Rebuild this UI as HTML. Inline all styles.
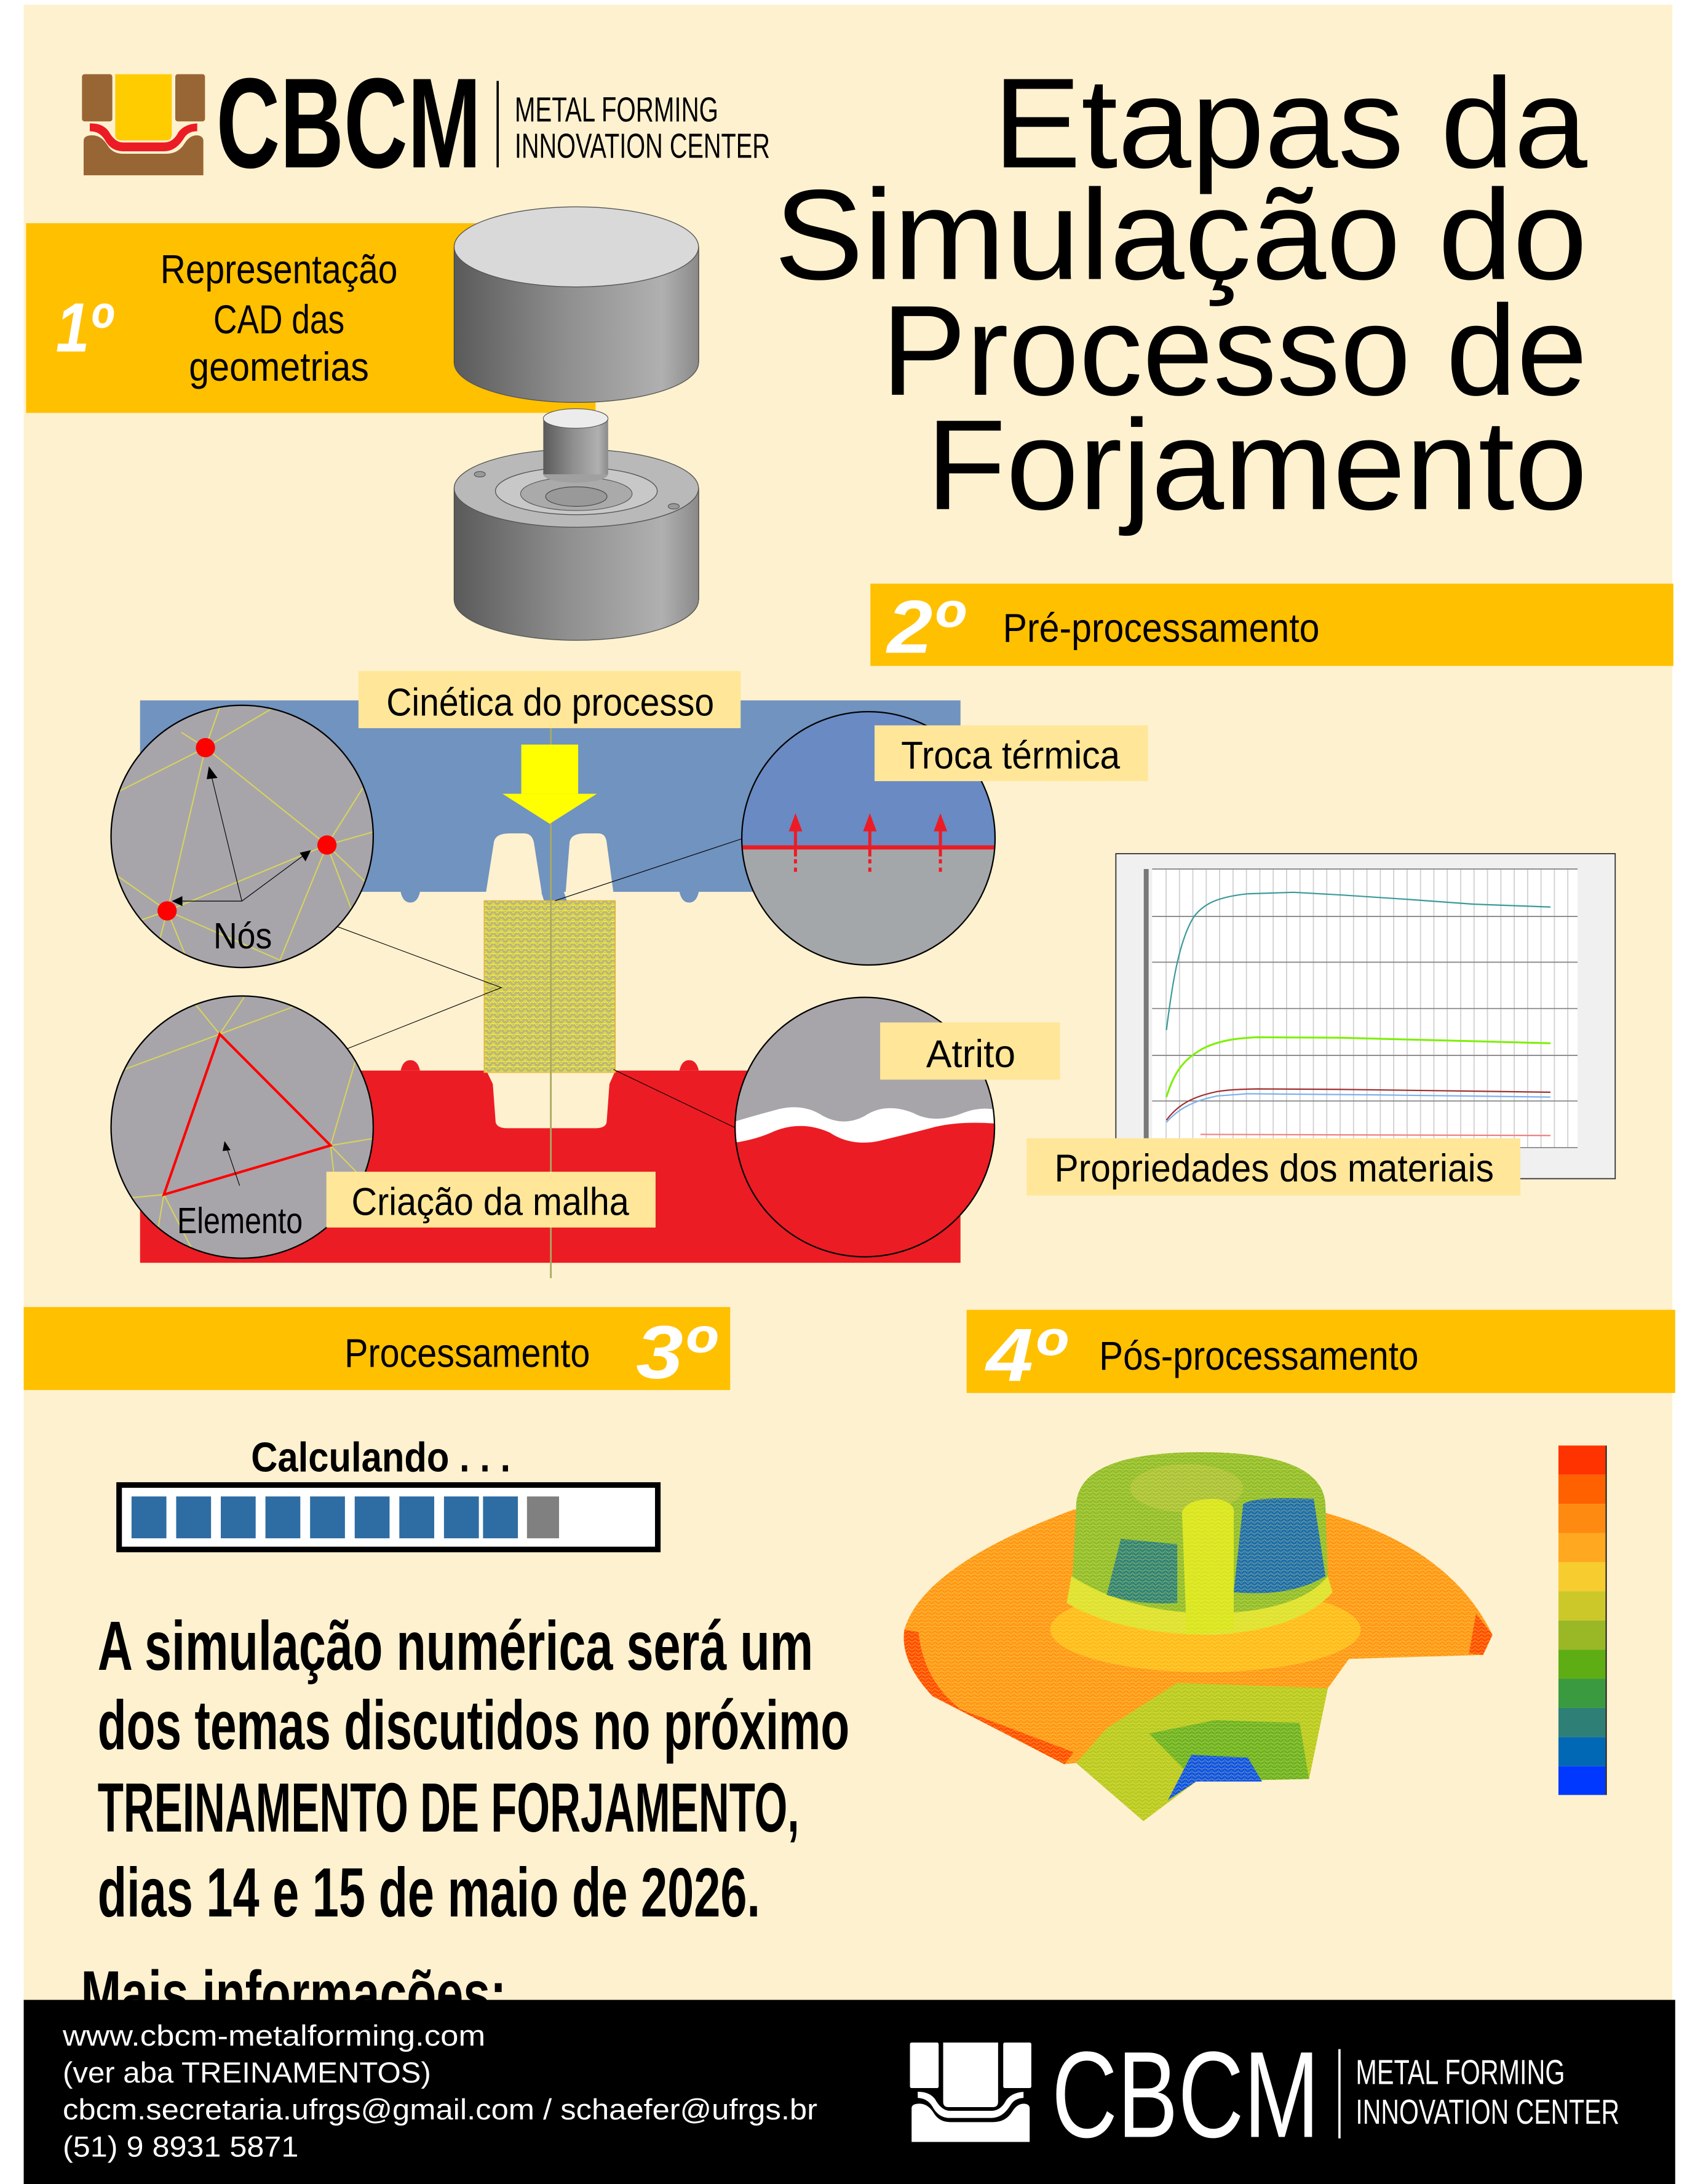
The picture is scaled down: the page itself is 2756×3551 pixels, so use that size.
<!DOCTYPE html>
<html><head><meta charset="utf-8"><style>
html,body{margin:0;padding:0;background:#fff;}
svg{display:block;}
.c{font-family:"Liberation Sans Narrow","Liberation Sans",sans-serif;font-weight:bold;}
.t{font-family:"Liberation Sans",sans-serif;}
</style></head><body>
<svg width="2756" height="3551" viewBox="0 0 1215.2 1565.7" preserveAspectRatio="none" xmlns="http://www.w3.org/2000/svg">
<defs>
<clipPath id="cN"><circle cx="173.6" cy="599.6" r="94"/></clipPath>
<clipPath id="cE"><circle cx="173.6" cy="808" r="94"/></clipPath>
<clipPath id="cT"><circle cx="622.6" cy="601" r="90.8"/></clipPath>
<clipPath id="cF"><circle cx="620" cy="808" r="93"/></clipPath>
<linearGradient id="cyl" x1="0" x2="1" y1="0" y2="0">
<stop offset="0" stop-color="#5a5a5a"/><stop offset="0.45" stop-color="#8e8e8e"/><stop offset="0.85" stop-color="#b0b0b0"/><stop offset="1" stop-color="#8a8a8a"/></linearGradient>
<pattern id="mesh" width="14" height="14" patternUnits="userSpaceOnUse">
<rect width="14" height="14" fill="#bdb77a"/><path d="M0,14 L7,0 L14,14 M0,7 L14,7" stroke="#f2ec30" stroke-width="1.4" fill="none"/><circle cx="7" cy="7" r="1.6" fill="#ffff40"/></pattern>
<pattern id="pm" width="14" height="14" patternUnits="userSpaceOnUse">
<path d="M0,14 L7,0 L14,14 M0,7 L14,7" stroke="#ffff60" stroke-width="0.9" fill="none" opacity="0.55"/></pattern>
<clipPath id="partclip"><path d="M380,1265 L100,1010 Q30,880 40,760 Q80,520 400,310 L405,300 Q405,95 670,95 Q935,95 935,300 L930,320 Q1200,450 1290,780 L1270,855 L985,870 L940,980 L900,1320 L660,1330 L548,1478 L405,1260 Z"/></clipPath>
</defs>

<rect x="0" y="0" width="1215.2" height="1565.7" fill="#fff"/>
<rect x="17" y="3.4" width="1182" height="1562" fill="#FEF1CF"/>

<!-- top logo -->
<g transform="matrix(0.14697 0 0 0.14697 44.09 44.09)">
<rect x="100" y="62" width="148" height="230" rx="12" fill="#986634"/>
<rect x="555" y="62" width="145" height="230" rx="12" fill="#986634"/>
<path d="M262,62 L538,62 L538,355 Q538,385 508,385 L292,385 Q262,385 262,355 Z" fill="#FFCC00"/>
<path d="M138,302 Q200,300 230,340 Q260,395 300,395 L500,395 Q545,395 570,345 Q600,305 662,302 L662,340 Q620,340 600,370 Q560,438 500,438 L300,438 Q240,438 210,380 Q185,340 138,340 Z" fill="#EC1C24"/>
<path d="M108,385 Q110,360 150,360 Q195,360 225,410 Q250,450 300,450 L510,450 Q570,450 600,400 Q625,360 660,360 Q690,362 692,385 L692,555 L108,555 Z" fill="#986634"/>
</g>
<text class="c" x="155" y="120" font-size="92" textLength="190" lengthAdjust="spacingAndGlyphs">CBCM</text>
<rect x="356" y="58" width="1.6" height="62" fill="#000"/>
<text class="c" x="369" y="87" font-size="25" textLength="146" lengthAdjust="spacingAndGlyphs" style="font-weight:normal">METAL FORMING</text>
<text class="c" x="369" y="113" font-size="25" textLength="183" lengthAdjust="spacingAndGlyphs" style="font-weight:normal">INNOVATION CENTER</text>

<!-- title -->
<g class="t" font-size="92" text-anchor="end" fill="#000">
<text x="1138" y="120" textLength="426" lengthAdjust="spacingAndGlyphs">Etapas da</text>
<text x="1138" y="200" textLength="583" lengthAdjust="spacingAndGlyphs">Simulação do</text>
<text x="1138" y="283" textLength="506" lengthAdjust="spacingAndGlyphs">Processo de</text>
<text x="1138" y="365" textLength="474" lengthAdjust="spacingAndGlyphs">Forjamento</text>
</g>

<!-- band 1 -->
<rect x="18.7" y="160" width="408.3" height="136" fill="#FFC000"/>
<text class="c" x="40" y="252" font-size="50" fill="#fff" font-style="italic" textLength="40" lengthAdjust="spacingAndGlyphs">1º</text>
<g class="c" font-size="29" text-anchor="middle" style="font-weight:normal">
<text x="200" y="203" textLength="170" lengthAdjust="spacingAndGlyphs">Representação</text>
<text x="200" y="239" textLength="94" lengthAdjust="spacingAndGlyphs">CAD das</text>
<text x="200" y="273" textLength="129" lengthAdjust="spacingAndGlyphs">geometrias</text>
</g>

<!-- cylinders -->
<ellipse cx="413.2" cy="260" rx="87.6" ry="28.5" fill="url(#cyl)" stroke="#555" stroke-width="0.6"/>
<rect x="325.6" y="177" width="175.3" height="83" fill="url(#cyl)"/>
<line x1="325.6" y1="177" x2="325.6" y2="260" stroke="#444" stroke-width="0.6"/>
<line x1="500.9" y1="177" x2="500.9" y2="260" stroke="#444" stroke-width="0.6"/>
<ellipse cx="413.2" cy="177" rx="87.6" ry="28.7" fill="#d9d9d9" stroke="#555" stroke-width="0.6"/>

<ellipse cx="413.2" cy="430" rx="87.6" ry="29" fill="url(#cyl)" stroke="#555" stroke-width="0.6"/>
<rect x="325.6" y="350" width="175.3" height="80" fill="url(#cyl)"/>
<line x1="325.6" y1="350" x2="325.6" y2="430" stroke="#444" stroke-width="0.6"/>
<line x1="500.9" y1="350" x2="500.9" y2="430" stroke="#444" stroke-width="0.6"/>
<ellipse cx="413.2" cy="350" rx="87.6" ry="28" fill="#b9b9b9" stroke="#555" stroke-width="0.6"/>
<ellipse cx="413.2" cy="352" rx="58" ry="17" fill="#c8c8c8" stroke="#555" stroke-width="0.6"/>
<ellipse cx="413.2" cy="354" rx="40" ry="12" fill="#aaa" stroke="#555" stroke-width="0.5"/>
<ellipse cx="413.2" cy="356" rx="22" ry="7" fill="#999" stroke="#444" stroke-width="0.5"/>
<ellipse cx="344" cy="340" rx="4" ry="2" fill="#999" stroke="#444" stroke-width="0.4"/>
<ellipse cx="483" cy="363" rx="4" ry="2" fill="#999" stroke="#444" stroke-width="0.4"/>
<ellipse cx="412.7" cy="340" rx="23.2" ry="6" fill="#a0a0a0"/>
<rect x="389.5" y="300" width="46.5" height="40" fill="url(#cyl)"/>
<ellipse cx="412.7" cy="300" rx="23.2" ry="7" fill="#ececec" stroke="#555" stroke-width="0.5"/>

<!-- band 2 -->
<rect x="624" y="418.4" width="575.7" height="59" fill="#FFC000"/>
<text class="c" x="636" y="468" font-size="54" fill="#fff" font-style="italic" textLength="54" lengthAdjust="spacingAndGlyphs">2º</text>
<text class="c" x="719" y="460" font-size="29" textLength="227" lengthAdjust="spacingAndGlyphs" style="font-weight:normal">Pré-processamento</text>

<!-- diagram -->
<g transform="matrix(0.4079 0 0 0.2756 88.18 485.0)">
<rect x="30" y="62" width="1442" height="498" fill="#7093C0"/>
<path d="M735,560 L740,583 L780,583 L775,560 Z" fill="#7093C0"/>
<path d="M488,560 Q492,588 505,588 Q518,588 522,560 Z" fill="#7093C0"/>
<path d="M978,560 Q982,588 995,588 Q1008,588 1012,560 Z" fill="#7093C0"/>
<path d="M638,562 L652,430 Q655,408 680,408 L705,408 Q718,408 722,430 L736,562 Z" fill="#FEF1CF"/>
<path d="M778,562 L785,430 Q788,408 812,408 L835,408 Q848,408 850,430 L862,562 Z" fill="#FEF1CF"/>
<rect x="30" y="1025" width="1442" height="500" fill="#EC1C24"/>
<path d="M488,1025 Q492,998 505,998 Q518,998 522,1025 Z" fill="#EC1C24"/>
<path d="M978,1025 Q982,998 995,998 Q1008,998 1012,1025 Z" fill="#EC1C24"/>
<path d="M638,1023 L650,1060 L655,1160 Q658,1175 675,1175 L830,1175 Q848,1175 850,1160 L855,1060 L866,1023 Z" fill="#FEF1CF"/>
<rect x="635" y="583" width="230" height="447" fill="url(#mesh)" stroke="#e2b63a" stroke-width="2"/>
<line x1="752" y1="130" x2="752" y2="1565" stroke="#a8aa60" stroke-width="3"/>
<rect x="700" y="177" width="100" height="128" fill="#FFFF00"/>
<path d="M667,305 L833,305 L750,383 Z" fill="#FFFF00"/>
</g>
<g stroke="#000" stroke-width="0.5" fill="none">
<path d="M241,664 L359.4,708 L248.5,752"/>
<line x1="531.9" y1="601.3" x2="398" y2="645.7"/>
<line x1="439.8" y1="766.7" x2="526.7" y2="808.3"/>
</g>

<!-- nodes circle -->
<g clip-path="url(#cN)">
<rect x="70" y="500" width="210" height="200" fill="#A7A5AA"/>
<g stroke="#D8D45A" stroke-width="0.9" fill="none">
<path d="M147.3,536 L80,570 M147.3,536 L120,653 M147.3,536 L234.4,605.8 M147.3,536 L160,500 M147.3,536 L200,505 M147.3,536 L130,525"/>
<path d="M234.4,605.8 L120,653 M234.4,605.8 L260,565 M234.4,605.8 L290,590 M234.4,605.8 L270,640 M234.4,605.8 L255,660 M234.4,605.8 L200,690"/>
<path d="M120,653 L80,625 M120,653 L100,660 M120,653 L110,690 M120,653 L135,690 M120,653 L200,688"/>
</g>
<circle cx="147.3" cy="536" r="6.9" fill="#F00"/>
<circle cx="234.4" cy="605.8" r="6.9" fill="#F00"/>
<circle cx="119.8" cy="653" r="6.9" fill="#F00"/>
<g stroke="#000" stroke-width="0.5" fill="#000">
<path d="M173.4,646 L152,558" fill="none"/><path d="M149.9,550 L155.5,557.5 L148.5,558.3 Z"/>
<path d="M173.4,646 L218,613" fill="none"/><path d="M222.5,609.8 L219,617 L215.3,611.5 Z"/>
<path d="M173.4,646 L130,646" fill="none"/><path d="M123.8,646 L130.5,642.8 L130.5,649.2 Z"/>
</g>
</g>
<circle cx="173.6" cy="599.6" r="94" fill="none" stroke="#000" stroke-width="1"/>
<text class="c" x="153" y="680" font-size="26" textLength="42" lengthAdjust="spacingAndGlyphs" style="font-weight:normal">Nós</text>

<!-- element circle -->
<g clip-path="url(#cE)">
<rect x="70" y="705" width="210" height="210" fill="#A7A5AA"/>
<g stroke="#D8D45A" stroke-width="0.9" fill="none">
<path d="M157.5,741.4 L80,770 M157.5,741.4 L140,720 M157.5,741.4 L175,715 M157.5,741.4 L215,720 M237,821.2 L275,815 M237,821.2 L255,760 M237,821.2 L265,850 M237,821.2 L245,890 M117.5,856.4 L80,860 M117.5,856.4 L110,900 M117.5,856.4 L140,900"/>
</g>
<path d="M157.5,741.4 L237,821.2 L117.5,856.4 Z" fill="none" stroke="#F00" stroke-width="1.8"/>
<path d="M171.8,850 L162.6,823" stroke="#000" stroke-width="0.5"/>
<path d="M161,818 L165.3,824.5 L159.6,825.2 Z" fill="#000"/>
</g>
<circle cx="173.6" cy="808" r="94" fill="none" stroke="#000" stroke-width="1"/>
<text class="c" x="127" y="884" font-size="26" textLength="90" lengthAdjust="spacingAndGlyphs" style="font-weight:normal">Elemento</text>

<!-- thermal circle -->
<g clip-path="url(#cT)">
<rect x="525" y="505" width="200" height="103" fill="#6A8AC4"/>
<rect x="525" y="608" width="200" height="100" fill="#A4A7AA"/>
<rect x="525" y="606" width="200" height="3" fill="#EC1C24"/>
<g fill="#EC1C24">
<rect x="569.2" y="594" width="2.2" height="20"/><path d="M565.5,596 L570.3,583 L575.2,596 Z"/><rect x="569.2" y="616" width="2.2" height="3"/><rect x="569.2" y="622" width="2.2" height="3"/>
<rect x="622.5" y="594" width="2.2" height="20"/><path d="M618.8,596 L623.6,583 L628.5,596 Z"/><rect x="622.5" y="616" width="2.2" height="3"/><rect x="622.5" y="622" width="2.2" height="3"/>
<rect x="673.1" y="594" width="2.2" height="20"/><path d="M669.4,596 L674.2,583 L679.1,596 Z"/><rect x="673.1" y="616" width="2.2" height="3"/><rect x="673.1" y="622" width="2.2" height="3"/>
</g>
</g>
<circle cx="622.6" cy="601" r="90.8" fill="none" stroke="#000" stroke-width="1"/>

<!-- friction circle -->
<g clip-path="url(#cF)">
<rect x="520" y="710" width="200" height="200" fill="#A7A5AA"/>
<path d="M520,806 Q540,800 555,796 Q575,790 590,800 Q605,808 620,800 Q635,790 655,798 Q670,806 690,798 Q705,792 720,797 L720,910 L520,910 Z" fill="#fff"/>
<path d="M520,820 Q540,818 555,811 Q575,803 595,812 Q610,822 630,818 Q655,812 670,808 Q690,803 720,806 L720,910 L520,910 Z" fill="#EC1C24"/>
</g>
<circle cx="620" cy="808" r="93" fill="none" stroke="#000" stroke-width="1"/>

<!-- labels -->
<g fill="#FFE699">
<rect x="257" y="481" width="274" height="41"/>
<rect x="627" y="520" width="196" height="40"/>
<rect x="631" y="733" width="129" height="41"/>
<rect x="234" y="840" width="236" height="40"/>
</g>
<g class="c" font-size="28" style="font-weight:normal">
<text x="277" y="513" textLength="235" lengthAdjust="spacingAndGlyphs">Cinética do processo</text>
<text x="646" y="551" textLength="157" lengthAdjust="spacingAndGlyphs">Troca térmica</text>
<text x="664" y="765" textLength="64" lengthAdjust="spacingAndGlyphs">Atrito</text>
<text x="252" y="871" textLength="199" lengthAdjust="spacingAndGlyphs">Criação da malha</text>
</g>

<!-- chart -->
<rect x="800" y="612" width="358" height="233" fill="#F0F0F0" stroke="#333" stroke-width="0.8"/>
<rect x="826" y="622.7" width="305" height="200" fill="#fff"/>
<g stroke="#d0d0d0" stroke-width="0.8">
<path d="M836,623V823M845.6,623V823M855.2,623V823M864.8,623V823M874.4,623V823M884,623V823M893.6,623V823M903.2,623V823M912.8,623V823M922.4,623V823M932,623V823M941.6,623V823M951.2,623V823M960.8,623V823M970.4,623V823M980,623V823M989.6,623V823M999.2,623V823M1008.8,623V823M1018.4,623V823M1028,623V823M1037.6,623V823M1047.2,623V823M1056.8,623V823M1066.4,623V823M1076,623V823M1085.6,623V823M1095.2,623V823M1104.8,623V823M1114.4,623V823M1124,623V823"/>
</g>
<g stroke="#888" stroke-width="0.8"><path d="M826,623H1131M826,657H1131M826,689.8H1131M826,723H1131M826,756.6H1131M826,789.3H1131M826,822.7H1131"/></g>
<rect x="820" y="623" width="3.5" height="205" fill="#777"/>
<g transform="matrix(0.239 0 0 0.1575 793.7 608.5)" fill="none" stroke-width="2.2" stroke-linejoin="round">
<path vector-effect="non-scaling-stroke" stroke="#3A9A9A" d="M178,825 C195,620 215,420 260,310 C290,250 330,220 420,205 L560,198 L700,210 L900,230 L1100,252 L1330,265"/>
<path vector-effect="non-scaling-stroke" stroke="#7CF000" stroke-width="3" d="M178,1130 C200,1020 230,950 300,900 C340,875 380,862 450,858 L700,860 L1000,872 L1330,885"/>
<path vector-effect="non-scaling-stroke" stroke="#A03030" d="M178,1235 C210,1170 250,1130 330,1105 C360,1098 380,1095 450,1093 L700,1095 L1330,1108"/>
<path vector-effect="non-scaling-stroke" stroke="#7DB0EE" d="M178,1245 C210,1190 250,1150 330,1125 L420,1115 L800,1120 L1330,1130"/>
<path vector-effect="non-scaling-stroke" stroke="#F08080" d="M280,1300 L1330,1305"/>
</g>
<rect x="736" y="816" width="354" height="41" fill="#FFE699"/>
<text class="c" x="756" y="847" font-size="28" textLength="315" lengthAdjust="spacingAndGlyphs" style="font-weight:normal">Propriedades dos materiais</text>

<!-- band 3 & 4 -->
<rect x="17" y="937" width="506.5" height="59.5" fill="#FFC000"/>
<text class="c" x="247" y="980" font-size="29" textLength="176" lengthAdjust="spacingAndGlyphs" style="font-weight:normal">Processamento</text>
<text class="c" x="456" y="988" font-size="54" fill="#fff" font-style="italic" textLength="56" lengthAdjust="spacingAndGlyphs">3º</text>
<rect x="693" y="939" width="508" height="59.6" fill="#FFC000"/>
<text class="c" x="707" y="990" font-size="54" fill="#fff" font-style="italic" textLength="56" lengthAdjust="spacingAndGlyphs">4º</text>
<text class="c" x="788" y="982" font-size="29" textLength="229" lengthAdjust="spacingAndGlyphs" style="font-weight:normal">Pós-processamento</text>

<!-- progress -->
<text class="c" x="180" y="1055" font-size="30" textLength="186" lengthAdjust="spacingAndGlyphs">Calculando . . .</text>
<rect x="85.4" y="1064.6" width="386.2" height="46.2" fill="#fff" stroke="#000" stroke-width="4"/>
<g fill="#2E6DA4">
<rect x="94.3" y="1072.8" width="25" height="30"/><rect x="126.3" y="1072.8" width="25" height="30"/><rect x="158.3" y="1072.8" width="25" height="30"/><rect x="190.3" y="1072.8" width="25" height="30"/><rect x="222.3" y="1072.8" width="25" height="30"/><rect x="254.3" y="1072.8" width="25" height="30"/><rect x="286.3" y="1072.8" width="25" height="30"/><rect x="318.3" y="1072.8" width="25" height="30"/><rect x="346.3" y="1072.8" width="25" height="30"/>
</g>
<rect x="377.8" y="1072.8" width="23" height="30" fill="#808080"/>

<!-- big text -->
<g class="c" font-size="50">
<text x="70" y="1197" textLength="513" lengthAdjust="spacingAndGlyphs">A simulação numérica será um</text>
<text x="70" y="1254" textLength="539" lengthAdjust="spacingAndGlyphs">dos temas discutidos no próximo</text>
<text x="70" y="1313" textLength="503" lengthAdjust="spacingAndGlyphs">TREINAMENTO DE FORJAMENTO,</text>
<text x="70" y="1374" textLength="475" lengthAdjust="spacingAndGlyphs">dias 14 e 15 de maio de 2026.</text>
<text x="58" y="1445" font-size="46" textLength="305" lengthAdjust="spacingAndGlyphs">Mais informações:</text>
</g>

<!-- result image -->
<g transform="matrix(0.3373 0 0 0.1912 634.9 1022.9)">
<path d="M380,1265 L100,1010 Q30,880 40,760 Q80,520 400,310 L930,320 Q1200,450 1290,780 L1270,855 L985,870 L940,980 L900,1320 L660,1330 L548,1478 L405,1260 Z" fill="#FF9518"/>
<path d="M380,1265 L100,1010 Q30,880 40,760 L70,770 Q80,950 160,1060 L400,1220 Z" fill="#FF4A00"/>
<path d="M1290,780 L1270,855 L1240,850 L1255,700 Z" fill="#FF4A00"/>
<ellipse cx="680" cy="760" rx="330" ry="160" fill="#FFC21E" opacity="0.8"/>
<path d="M405,1260 L548,1478 L660,1330 L900,1320 L940,980 L620,960 L470,1130 Z" fill="#B8C822"/>
<path d="M560,1150 L700,1100 L880,1110 L900,1320 L660,1330 Z" fill="#6AB024"/>
<path d="M600,1400 L660,1330 L800,1330 L770,1240 L650,1230 Z" fill="#0A4FEA"/>
<path d="M405,300 Q405,95 670,95 Q935,95 935,300 L940,560 Q880,690 700,720 Q520,730 395,640 Z" fill="#8FBB2E"/>
<path d="M395,560 Q520,700 700,700 Q880,690 940,560 L950,620 Q880,760 700,780 Q500,780 385,660 Z" fill="#DDE030"/>
<path d="M760,290 Q780,260 910,270 L935,560 Q860,640 740,620 Z" fill="#1A6AB0"/>
<path d="M500,420 L620,440 L620,660 Q540,670 470,630 Z" fill="#2E8077"/>
<ellipse cx="640" cy="230" rx="120" ry="90" fill="#A8C03A"/>
<path d="M630,320 Q640,270 700,270 Q745,280 740,330 L740,760 L640,780 Z" fill="#D8E41E"/>
<rect x="0" y="0" width="1400" height="1500" fill="url(#pm)" clip-path="url(#partclip)"/>
</g>
<!-- colorbar -->
<g>
<rect x="1117.3" y="1036.3" width="33.7" height="20.9" fill="#FF3300"/>
<rect x="1117.3" y="1057.2" width="33.7" height="20.9" fill="#FF6100"/>
<rect x="1117.3" y="1078.1" width="33.7" height="20.9" fill="#FF8A12"/>
<rect x="1117.3" y="1099" width="33.7" height="20.9" fill="#FFA820"/>
<rect x="1117.3" y="1119.9" width="33.7" height="20.9" fill="#F7CC2E"/>
<rect x="1117.3" y="1140.8" width="33.7" height="20.9" fill="#CCC82A"/>
<rect x="1117.3" y="1161.7" width="33.7" height="20.9" fill="#9AB826"/>
<rect x="1117.3" y="1182.6" width="33.7" height="20.9" fill="#5FAD14"/>
<rect x="1117.3" y="1203.5" width="33.7" height="20.9" fill="#3A9A40"/>
<rect x="1117.3" y="1224.4" width="33.7" height="20.9" fill="#2E8077"/>
<rect x="1117.3" y="1245.3" width="33.7" height="20.9" fill="#0068B5"/>
<rect x="1117.3" y="1266.2" width="33.7" height="20.6" fill="#0038FF"/>
<line x1="1151.5" y1="1036.3" x2="1151.5" y2="1286.8" stroke="#000" stroke-width="0.8"/>
</g>

<!-- footer -->
<rect x="17" y="1433.7" width="1184" height="132" fill="#000"/>
<g class="t" font-size="21" fill="#fff">
<text x="45" y="1466.5" textLength="303" lengthAdjust="spacingAndGlyphs">www.cbcm-metalforming.com</text>
<text x="45" y="1493" textLength="264" lengthAdjust="spacingAndGlyphs">(ver aba TREINAMENTOS)</text>
<text x="45" y="1519.5" textLength="541" lengthAdjust="spacingAndGlyphs">cbcm.secretaria.ufrgs@gmail.com / schaefer@ufrgs.br</text>
<text x="45" y="1546" textLength="169" lengthAdjust="spacingAndGlyphs">(51) 9 8931 5871</text>
</g>
<g transform="matrix(0.14697 0 0 0.14697 637.09 1454.59)" fill="#fff" stroke="#000" stroke-width="8">
<rect x="100" y="62" width="148" height="230" rx="12"/>
<rect x="555" y="62" width="145" height="230" rx="12"/>
<path d="M262,62 L538,62 L538,355 Q538,385 508,385 L292,385 Q262,385 262,355 Z"/>
<path d="M138,302 Q200,300 230,340 Q260,395 300,395 L500,395 Q545,395 570,345 Q600,305 662,302 L662,340 Q620,340 600,370 Q560,438 500,438 L300,438 Q240,438 210,380 Q185,340 138,340 Z"/>
<path d="M108,385 Q110,360 150,360 Q195,360 225,410 Q250,450 300,450 L510,450 Q570,450 600,400 Q625,360 660,360 Q690,362 692,385 L692,555 L108,555 Z"/>
</g>
<text class="c" x="754" y="1532" font-size="88" fill="#fff" textLength="192" lengthAdjust="spacingAndGlyphs" style="font-weight:normal">CBCM</text>
<rect x="959.5" y="1469" width="1.6" height="64" fill="#fff"/>
<text class="c" x="972" y="1494" font-size="25" fill="#fff" textLength="150" lengthAdjust="spacingAndGlyphs" style="font-weight:normal">METAL FORMING</text>
<text class="c" x="972" y="1522.5" font-size="25" fill="#fff" textLength="189" lengthAdjust="spacingAndGlyphs" style="font-weight:normal">INNOVATION CENTER</text>
</svg>
</body></html>
